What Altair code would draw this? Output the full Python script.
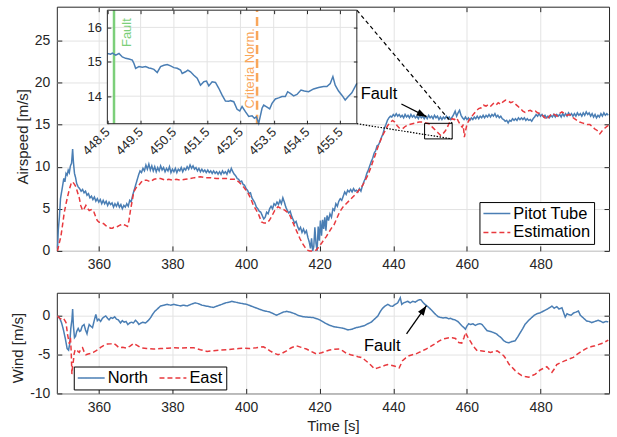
import altair as alt
import pandas as pd

FONT = "Liberation Sans"
BLUE = "#4a7eb4"
RED = "#e8393e"
GREEN = "#7ccf7a"
ORANGE = "#f9a65a"
INK = "#262626"
GRID = "#e3e3e3"

W, H_AIR, H_WIND = 554, 245, 101

# ---------------- shared time axis ----------------
time_domain = [348.6, 498.6]
time_ticks = [360, 380, 400, 420, 440, 460, 480]

# ---------------- airspeed panel ----------------
airspeed_domain = [0, 29]
airspeed_ticks = [0, 5, 10, 15, 20, 25]
air_series = ["Pitot Tube", "Estimation"]

pitot_tube = [
    (348.8, 0.3), (349.0, 2.5), (349.3, 4.0), (349.6, 6.2), (349.9, 7.0), (350.2, 7.8),
    (350.5, 8.6), (350.8, 8.2), (351.1, 9.2), (351.4, 9.0), (351.7, 9.6), (352.0, 9.3),
    (352.3, 10.1), (352.6, 10.4), (352.9, 12.1), (353.1, 10.6), (353.4, 9.2), (353.7, 8.7),
    (354.0, 8.0), (354.4, 7.6), (354.8, 7.4), (355.2, 7.1), (355.6, 7.3), (356.0, 6.9),
    (356.4, 7.1), (356.8, 6.6), (357.2, 6.8), (357.6, 6.3), (358.0, 6.5), (358.4, 6.1),
    (358.8, 6.4), (359.2, 5.9), (359.6, 6.2), (360.0, 5.8), (360.4, 6.1), (360.8, 5.6),
    (361.2, 6.0), (361.6, 5.6), (362.0, 5.9), (362.4, 5.4), (362.8, 5.8), (363.2, 5.5),
    (363.6, 5.7), (364.0, 5.2), (364.4, 5.6), (364.8, 5.3), (365.2, 5.7), (365.6, 5.2),
    (366.0, 5.5), (366.4, 5.0), (366.8, 5.4), (367.2, 5.2), (367.6, 5.6), (368.0, 5.3),
    (368.4, 6.0), (368.8, 5.8), (369.2, 6.6), (369.6, 7.2), (370.0, 7.8), (370.4, 8.4),
    (370.8, 9.0), (371.2, 9.5), (371.6, 9.3), (372.0, 9.8), (372.4, 9.5), (372.8, 10.2),
    (373.2, 9.7), (373.6, 10.3), (374.0, 9.6), (374.4, 10.1), (374.8, 9.5), (375.2, 10.0),
    (375.6, 9.4), (376.0, 9.9), (376.4, 9.5), (376.8, 10.1), (377.2, 9.6), (377.6, 9.9),
    (378.0, 9.4), (378.4, 9.8), (378.8, 9.5), (379.2, 10.0), (379.6, 9.3), (380.0, 9.7),
    (380.4, 9.4), (380.8, 9.8), (381.2, 9.3), (381.6, 9.7), (382.0, 9.5), (382.4, 9.9),
    (382.8, 9.4), (383.2, 9.8), (383.6, 9.6), (384.0, 10.0), (384.4, 9.7), (384.8, 10.2),
    (385.2, 9.8), (385.6, 10.1), (386.0, 9.7), (386.4, 9.9), (386.8, 9.5), (387.2, 9.8),
    (387.6, 9.4), (388.0, 9.7), (388.4, 9.4), (388.8, 9.6), (389.2, 9.3), (389.6, 9.6),
    (390.0, 9.3), (390.4, 9.5), (390.8, 9.2), (391.2, 9.5), (391.6, 9.2), (392.0, 9.4),
    (392.4, 9.1), (392.8, 9.4), (393.2, 9.1), (393.6, 9.5), (394.0, 9.2), (394.4, 9.4),
    (394.8, 9.1), (395.2, 9.6), (395.6, 9.3), (396.0, 9.8), (396.4, 9.4), (396.8, 9.1),
    (397.2, 8.9), (397.6, 8.6), (398.0, 8.5), (398.4, 8.2), (398.8, 8.3), (399.2, 7.9),
    (399.6, 7.8), (400.0, 7.4), (400.4, 7.2), (400.8, 6.8), (401.2, 6.9), (401.6, 6.3),
    (402.0, 6.0), (402.4, 5.7), (402.8, 5.2), (403.2, 5.0), (403.6, 4.7), (404.0, 4.6),
    (404.4, 4.2), (404.8, 3.8), (405.2, 4.0), (405.6, 4.6), (406.0, 4.4), (406.4, 5.0),
    (406.8, 5.3), (407.2, 5.0), (407.6, 5.6), (408.0, 5.4), (408.4, 5.8), (408.8, 5.5),
    (409.2, 6.0), (409.6, 5.6), (410.0, 6.3), (410.4, 5.8), (410.8, 5.2), (411.2, 4.8),
    (411.6, 4.5), (412.0, 4.7), (412.4, 4.1), (412.8, 3.7), (413.2, 3.3), (413.6, 3.5),
    (414.0, 2.9), (414.4, 2.5), (414.8, 2.8), (415.2, 2.2), (415.6, 2.6), (416.0, 2.1),
    (416.4, 2.4), (416.8, 1.6), (417.2, 1.0), (417.5, 0.3), (417.8, 1.5), (418.1, 0.0),
    (418.4, 0.5), (418.7, 2.8), (419.0, 0.9), (419.3, 0.0), (419.6, 2.9), (419.9, 1.2),
    (420.2, 3.6), (420.5, 1.8), (420.8, 3.7), (421.1, 2.6), (421.4, 4.0), (421.7, 2.4),
    (422.0, 4.2), (422.4, 3.6), (422.8, 4.4), (423.2, 4.0), (423.6, 5.0), (424.0, 4.8),
    (424.4, 5.6), (424.8, 5.3), (425.2, 5.9), (425.6, 6.2), (426.0, 6.0), (426.4, 6.5),
    (426.8, 7.0), (427.2, 6.7), (427.6, 7.2), (428.0, 7.0), (428.4, 7.3), (428.8, 7.0),
    (429.2, 7.4), (429.6, 7.1), (430.0, 7.2), (430.4, 7.0), (430.8, 7.4), (431.2, 7.1),
    (431.6, 7.7), (432.0, 8.2), (432.4, 8.6), (432.8, 9.2), (433.2, 9.6), (433.6, 10.1),
    (434.0, 10.6), (434.4, 11.0), (434.8, 11.6), (435.2, 11.9), (435.6, 12.5), (436.0, 12.6),
    (436.4, 13.0), (436.8, 13.5), (437.2, 13.9), (437.6, 14.6), (438.0, 15.0), (438.4, 15.5),
    (438.8, 15.8), (439.2, 16.0), (439.6, 15.9), (440.0, 16.2), (440.4, 16.0), (440.8, 16.3),
    (441.2, 16.0), (441.6, 16.2), (442.0, 15.9), (442.4, 16.1), (442.8, 15.8), (443.2, 16.2),
    (443.6, 15.9), (444.0, 16.1), (444.4, 15.8), (444.8, 16.2), (445.2, 15.9), (445.6, 16.1),
    (446.0, 15.8), (446.4, 16.0), (446.8, 15.7), (447.2, 16.1), (447.6, 15.8), (448.0, 16.0),
    (448.4, 15.7), (448.8, 16.0), (449.2, 15.7), (449.6, 16.1), (450.0, 15.8), (450.4, 16.0),
    (450.8, 15.7), (451.2, 16.1), (451.6, 15.8), (452.0, 16.0), (452.4, 15.6), (452.8, 15.9),
    (453.2, 15.6), (453.6, 15.9), (454.0, 15.7), (454.4, 16.0), (454.8, 15.7), (455.2, 15.9),
    (455.6, 15.6), (456.0, 15.9), (456.4, 16.2), (456.8, 16.6), (457.2, 16.0), (457.6, 16.4),
    (458.0, 16.7), (458.4, 16.1), (458.8, 15.8), (459.2, 15.6), (459.6, 15.9), (460.0, 15.6),
    (460.4, 15.8), (460.8, 15.5), (461.2, 15.8), (461.6, 15.6), (462.0, 15.9), (462.4, 15.7),
    (462.8, 16.0), (463.2, 15.7), (463.6, 16.0), (464.0, 15.8), (464.4, 16.1), (464.8, 15.8),
    (465.2, 16.1), (465.6, 15.9), (466.0, 16.2), (466.4, 15.9), (466.8, 16.2), (467.2, 16.0),
    (467.6, 16.3), (468.0, 15.9), (468.4, 16.1), (468.8, 15.8), (469.2, 16.0), (469.6, 15.7),
    (470.0, 15.6), (470.4, 15.4), (470.8, 15.5), (471.2, 15.2), (471.6, 15.5), (472.0, 15.4),
    (472.4, 15.7), (472.8, 15.5), (473.2, 15.7), (473.6, 15.5), (474.0, 15.8), (474.4, 15.6),
    (474.8, 15.8), (475.2, 15.6), (475.6, 15.8), (476.0, 15.5), (476.4, 15.7), (476.8, 15.5),
    (477.2, 15.6), (477.6, 15.4), (478.0, 15.7), (478.4, 15.9), (478.8, 16.2), (479.2, 16.0),
    (479.6, 16.3), (480.0, 16.0), (480.4, 16.2), (480.8, 15.9), (481.2, 16.1), (481.6, 15.8),
    (482.0, 16.0), (482.4, 15.8), (482.8, 16.1), (483.2, 15.9), (483.6, 16.2), (484.0, 15.9),
    (484.4, 16.2), (484.8, 16.0), (485.2, 16.2), (485.6, 15.9), (486.0, 16.3), (486.4, 16.0),
    (486.8, 16.3), (487.2, 16.0), (487.6, 16.4), (488.0, 16.1), (488.4, 16.3), (488.8, 16.0),
    (489.2, 16.3), (489.6, 16.0), (490.0, 16.4), (490.4, 16.1), (490.8, 16.3), (491.2, 16.0),
    (491.6, 16.4), (492.0, 16.1), (492.4, 16.5), (492.8, 16.2), (493.2, 16.4), (493.6, 16.0),
    (494.0, 16.3), (494.4, 15.9), (494.8, 16.2), (495.2, 15.8), (495.6, 16.1), (496.0, 15.9),
    (496.4, 16.3), (496.8, 16.0), (497.2, 16.4), (497.6, 16.1), (498.0, 16.3), (498.4, 16.1),
]

estimation = [
    (348.8, 0.0), (349.3, 1.0), (349.7, 1.7), (350.2, 3.2), (350.6, 4.5), (351.1, 5.6),
    (351.5, 6.4), (352.0, 7.3), (352.5, 8.0), (352.9, 8.2), (353.4, 7.9), (353.8, 7.6),
    (354.2, 7.0), (354.7, 6.3), (355.1, 5.4), (355.6, 4.8), (356.0, 5.0), (356.5, 5.4),
    (357.0, 5.0), (357.4, 4.8), (357.9, 4.9), (358.3, 4.6), (358.7, 4.6), (359.2, 4.0),
    (359.6, 3.6), (360.1, 3.4), (360.6, 3.4), (361.0, 3.3), (361.4, 3.2), (361.9, 3.0),
    (362.3, 2.9), (362.8, 2.8), (363.2, 2.7), (363.7, 2.7), (364.1, 2.8), (364.6, 2.8),
    (365.1, 2.9), (365.5, 3.0), (366.0, 3.1), (366.4, 3.2), (366.9, 3.1), (367.4, 3.0),
    (367.8, 2.9), (368.2, 3.6), (368.6, 4.8), (369.1, 6.0), (369.5, 7.0), (370.0, 7.4),
    (370.5, 7.7), (370.9, 7.8), (371.4, 8.1), (371.8, 8.3), (372.2, 8.4), (373.0, 8.4),
    (374.0, 8.2), (375.0, 8.5), (376.0, 8.6), (376.8, 8.6), (378.0, 8.4), (379.0, 8.5),
    (380.0, 8.4), (381.0, 8.5), (382.2, 8.4), (383.5, 8.5), (384.9, 8.6), (386.0, 8.7),
    (387.6, 8.8), (389.0, 8.7), (390.3, 8.7), (392.0, 8.6), (393.5, 8.6), (395.0, 8.6),
    (395.7, 8.5), (397.0, 8.5), (398.0, 8.2), (399.3, 7.6), (400.0, 7.2), (400.6, 6.8),
    (401.3, 6.2), (402.0, 5.4), (402.7, 4.9), (403.3, 4.45), (404.2, 3.45), (404.9, 3.3),
    (405.6, 3.3), (406.3, 3.6), (406.9, 4.05), (407.8, 4.8), (408.7, 5.25), (409.6, 5.0),
    (410.5, 4.85), (411.2, 4.6), (411.9, 4.25), (412.5, 3.6), (413.2, 2.9), (413.9, 2.2),
    (414.6, 1.5), (415.3, 0.9), (415.9, 0.5), (416.6, 0.1), (417.3, 0.0), (418.2, 0.0),
    (419.1, 0.1), (419.8, 0.5), (420.5, 0.9), (421.1, 1.3), (421.8, 1.7), (422.5, 2.2),
    (423.2, 2.7), (423.9, 3.1), (424.5, 3.7), (425.4, 4.6), (426.3, 5.2), (427.2, 5.6),
    (428.1, 6.0), (429.0, 6.4), (429.9, 6.8), (430.8, 7.3), (431.7, 7.8), (432.4, 8.4),
    (433.1, 9.0), (433.8, 9.8), (434.4, 10.55), (435.1, 11.4), (435.8, 12.3), (436.4, 13.0),
    (437.1, 13.7), (437.8, 14.3), (438.5, 14.9), (439.1, 15.2), (439.8, 15.5), (440.4, 15.3),
    (441.0, 14.9), (441.6, 14.6), (442.5, 14.5), (443.3, 14.8), (444.3, 15.0), (445.2, 15.1),
    (446.1, 15.2), (447.0, 15.3), (447.9, 15.3), (448.8, 15.2), (449.7, 15.1), (450.6, 14.7),
    (451.5, 14.3), (452.2, 14.0), (452.9, 13.7), (453.5, 13.9), (454.2, 14.3), (454.7, 14.7),
    (455.1, 15.1), (455.6, 15.5), (456.0, 15.7), (456.6, 15.6), (457.2, 15.8), (457.8, 15.3),
    (458.3, 14.9), (458.7, 14.7), (459.0, 15.0), (459.3, 13.5), (459.6, 14.2), (460.0, 15.0),
    (460.5, 15.5), (461.2, 15.9), (461.9, 16.3), (462.5, 16.6), (463.2, 16.9), (463.9, 17.0),
    (464.5, 17.3), (465.2, 17.2), (465.9, 17.4), (466.5, 17.2), (467.2, 17.5), (467.9, 17.3),
    (468.5, 17.6), (469.2, 17.4), (469.8, 17.7), (470.5, 17.9), (471.2, 17.8), (471.9, 17.6),
    (472.5, 17.7), (473.1, 17.45), (473.8, 17.2), (474.5, 16.9), (475.2, 16.6), (475.8, 16.45),
    (476.5, 16.6), (477.2, 16.7), (477.9, 16.5), (478.6, 16.6), (479.2, 16.4), (479.9, 16.3),
    (480.5, 16.1), (481.2, 15.8), (481.7, 15.6), (482.4, 16.0), (483.1, 16.3), (483.8, 16.2),
    (484.5, 16.0), (485.1, 16.3), (485.8, 16.5), (486.5, 16.3), (487.2, 16.1), (487.9, 16.2),
    (488.6, 15.9), (489.2, 15.7), (489.9, 15.5), (490.6, 15.3), (491.3, 15.2), (492.0, 15.1),
    (492.7, 15.0), (493.4, 15.0), (494.0, 14.8), (494.7, 14.5), (495.4, 14.3), (496.1, 13.9),
    (496.8, 14.3), (497.5, 14.6), (498.4, 14.9),
]

# fault marker on the airspeed panel: label position, arrow tail and tip
fault_label_air = (436.1, 18.67)
fault_arrow_air = (442.2, 17.45, 449.0, 15.94)
# region magnified in the inset: time range and airspeed range
zoom_box = (448.5, 456.0, 13.3, 15.15)

# ---------------- inset (magnified fault window) ----------------
zoom_time_domain = [448.5, 456.0]
zoom_speed_domain = [13.2, 16.5]
zoom_time_ticks = [448.5, 449.5, 450.5, 451.5, 452.5, 453.5, 454.5, 455.5]
zoom_speed_ticks = [14, 15, 16]
pitot_zoom = [
    (448.5, 15.24), (448.6, 15.22), (448.65, 15.25), (448.75, 15.19), (448.85, 15.24),
    (448.95, 15.14), (449.05, 15.1), (449.15, 15.08), (449.25, 15.05), (449.3, 14.95),
    (449.35, 14.81), (449.45, 14.86), (449.55, 14.84), (449.65, 14.86), (449.75, 14.82),
    (449.8, 14.81), (449.9, 14.78), (450.0, 14.69), (450.1, 14.86), (450.2, 14.9),
    (450.3, 14.92), (450.4, 14.88), (450.5, 14.83), (450.6, 14.81), (450.7, 14.76),
    (450.75, 14.66), (450.85, 14.71), (450.92, 14.76), (451.0, 14.71), (451.1, 14.61),
    (451.2, 14.52), (451.3, 14.32), (451.4, 14.42), (451.48, 14.44), (451.55, 14.3),
    (451.65, 14.42), (451.75, 14.4), (451.85, 14.23), (451.95, 14.03), (452.05, 13.86),
    (452.15, 13.85), (452.2, 13.87), (452.3, 13.84), (452.4, 13.62), (452.48, 13.57),
    (452.55, 13.7), (452.65, 13.55), (452.75, 13.41), (452.85, 13.43), (452.92, 13.36),
    (452.98, 13.4), (453.05, 13.21), (453.15, 13.65), (453.2, 13.74), (453.3, 13.68),
    (453.38, 13.63), (453.45, 13.79), (453.55, 13.92), (453.65, 13.95), (453.75, 13.99),
    (453.85, 13.99), (453.92, 14.13), (454.0, 14.08), (454.1, 14.01), (454.2, 14.05),
    (454.32, 14.18), (454.42, 14.15), (454.55, 14.13), (454.7, 14.21), (454.85, 14.25),
    (455.0, 14.28), (455.1, 14.28), (455.2, 14.37), (455.28, 14.57), (455.35, 14.32),
    (455.45, 14.15), (455.55, 14.03), (455.65, 13.89), (455.75, 14.0), (455.85, 14.1),
    (456.0, 14.37),
]
fault_time = 448.7
criteria_time = 453.0
fault_label_zoom = (449.2, 15.43)
criteria_label_zoom = (452.92, 13.64)

# inset placement inside the airspeed plot area (pixels)
INSET_LEFT, INSET_RIGHT, INSET_TOP, INSET_BOTTOM = 50.7, 301.0, 3.5, 117.4

# ---------------- wind panel ----------------
wind_domain = [-10, 3]
wind_ticks = [-10, -5, 0]
wind_series = ["North", "East"]

north = [
    (348.8, 0.0), (349.4, -0.3), (349.9, -0.9), (350.4, -1.8), (350.9, -2.9), (351.4, -4.2),
    (351.8, -4.4), (352.1, -3.6), (352.4, -1.6), (352.7, -0.5), (352.9, 0.9), (353.1, -1.2),
    (353.4, -2.8), (353.7, -2.6), (354.0, -2.0), (354.4, -1.6), (354.8, -2.0), (355.1, -1.9),
    (355.5, -1.3), (356.0, -1.1), (356.4, -1.8), (356.8, -2.3), (357.1, -1.6), (357.4, -1.1),
    (357.8, -1.3), (358.3, -1.5), (358.7, -0.7), (359.2, 0.2), (359.6, -0.6), (360.0, -0.4),
    (360.5, -0.7), (361.0, -0.3), (361.5, -0.1), (361.9, 0.0), (362.4, -0.3), (362.8, -0.5),
    (363.3, -0.2), (363.8, -0.3), (364.3, -0.1), (364.8, -0.4), (365.3, -0.5), (365.9, -0.9),
    (366.4, -0.6), (366.9, -0.8), (367.4, -0.7), (367.9, -1.1), (368.4, -0.9), (368.9, -0.8),
    (369.4, -0.9), (370.0, -0.55), (370.5, -0.8), (370.9, -1.1), (371.5, -0.9), (372.0, -0.8),
    (372.7, -0.9), (373.4, -0.6), (374.1, -0.2), (374.6, 0.2), (375.2, 0.6), (375.9, 0.9),
    (376.8, 1.3), (377.7, 1.4), (378.6, 1.5), (379.5, 1.4), (380.4, 1.5), (381.3, 1.4),
    (382.2, 1.3), (383.1, 1.4), (384.0, 1.3), (385.0, 1.5), (386.2, 1.7), (387.0, 1.6),
    (388.0, 1.4), (389.0, 1.3), (390.1, 1.2), (391.1, 1.1), (392.2, 1.3), (393.4, 1.5),
    (394.5, 1.7), (395.5, 1.8), (396.1, 1.9), (397.0, 1.8), (397.9, 1.7), (399.0, 1.6),
    (400.2, 1.5), (401.3, 1.3), (402.4, 1.1), (403.5, 0.9), (404.7, 0.7), (405.6, 0.6),
    (406.5, 0.5), (407.4, 0.3), (408.3, 0.1), (409.2, 0.3), (410.1, 0.5), (411.0, 0.6),
    (412.0, 0.5), (413.2, 0.3), (414.3, 0.05), (415.5, -0.1), (416.8, -0.15), (418.2, -0.2),
    (419.2, -0.35), (420.0, -0.5), (421.4, -0.9), (422.7, -1.2), (424.0, -1.4), (425.4, -1.5),
    (426.5, -1.6), (427.7, -1.8), (428.8, -1.7), (429.9, -1.5), (431.0, -1.4), (432.2, -1.25),
    (433.1, -1.0), (434.0, -0.8), (434.9, -0.4), (435.8, 0.0), (436.5, 0.6), (437.1, 1.0),
    (437.8, 1.3), (438.5, 1.5), (439.2, 1.3), (439.8, 1.25), (440.5, 1.5), (441.2, 1.7),
    (441.9, 2.35), (442.3, 1.5), (442.8, 1.7), (443.4, 1.8), (443.9, 1.9), (444.6, 1.7),
    (445.3, 1.9), (446.0, 1.8), (446.6, 2.0), (447.1, 2.1), (447.5, 2.1), (448.0, 1.8),
    (448.6, 1.5), (449.4, 1.2), (450.2, 0.85), (450.9, 0.5), (451.5, 0.2), (452.2, -0.1),
    (452.9, -0.2), (453.6, -0.25), (454.3, -0.2), (455.0, -0.35), (455.6, -0.3), (456.2, -0.45),
    (456.8, -0.5), (457.5, -0.7), (458.1, -1.0), (458.7, -1.3), (459.2, -1.5), (459.6, -1.7),
    (460.0, -1.3), (460.5, -1.0), (461.0, -1.1), (461.6, -1.0), (462.3, -1.2), (463.0, -1.05),
    (463.6, -1.0), (464.1, -1.1), (464.8, -1.5), (465.5, -1.9), (466.4, -2.0), (467.3, -2.15),
    (468.0, -2.3), (468.6, -2.55), (469.3, -2.8), (470.0, -3.2), (470.7, -3.4), (471.4, -3.45),
    (472.2, -3.3), (473.1, -3.2), (473.8, -2.7), (474.5, -2.14), (475.2, -1.6), (475.8, -1.07),
    (476.7, -0.6), (477.6, -0.2), (478.3, 0.1), (479.0, 0.3), (479.9, 0.4), (480.8, 0.64),
    (481.9, 0.9), (483.1, 1.28), (483.7, 1.0), (484.4, 1.2), (485.0, 0.9), (485.8, 1.07),
    (486.3, 0.4), (486.7, -0.13), (487.2, 0.3), (487.6, 0.2), (488.3, 0.1), (489.0, 0.4),
    (489.6, 0.5), (490.3, 0.64), (490.8, 0.1), (491.5, -0.2), (492.5, -0.64), (493.2, -0.7),
    (493.9, -0.85), (494.8, -0.7), (495.7, -0.55), (496.4, -0.7), (497.0, -0.85), (497.7, -0.7),
    (498.4, -0.75),
]

east = [
    (348.8, 0.0), (349.4, -0.3), (349.9, -0.4), (350.4, -0.3), (350.8, -0.6), (351.1, -0.85),
    (351.5, -2.35), (352.0, -3.6), (352.3, -2.8), (352.5, -4.5), (352.7, -7.5), (352.9, -6.3),
    (353.1, -5.8), (353.3, -4.9), (353.5, -4.5), (353.8, -4.3), (354.1, -4.4), (354.4, -4.6),
    (354.7, -4.7), (355.1, -4.3), (355.6, -4.1), (356.0, -4.6), (356.5, -5.0), (357.1, -4.9),
    (357.8, -4.85), (358.5, -4.7), (359.2, -4.5), (359.9, -4.3), (360.5, -4.06), (361.4, -3.8),
    (362.3, -3.63), (363.2, -3.6), (364.1, -3.55), (364.8, -3.8), (365.5, -4.1), (366.5, -4.05),
    (367.5, -4.15), (368.5, -3.9), (369.5, -3.55), (370.4, -3.8), (371.4, -4.1), (373.0, -4.2),
    (374.9, -4.27), (376.8, -4.2), (378.7, -4.15), (380.6, -4.1), (382.4, -4.15), (384.2, -4.1),
    (385.8, -4.1), (387.6, -4.35), (389.4, -4.57), (391.2, -4.5), (393.0, -4.4), (394.8, -4.35),
    (396.6, -4.27), (398.0, -4.2), (399.3, -4.15), (401.0, -4.2), (402.8, -4.1), (404.7, -3.97),
    (405.6, -4.2), (406.5, -4.5), (407.6, -4.8), (408.7, -5.0), (409.8, -4.8), (411.0, -4.5),
    (412.3, -4.1), (413.7, -3.85), (415.0, -4.05), (416.4, -4.27), (417.8, -4.6), (419.1, -4.9),
    (420.5, -4.75), (421.6, -4.55), (422.7, -4.4), (424.0, -4.3), (425.4, -4.27), (426.3, -4.5),
    (427.2, -4.8), (428.4, -5.0), (429.5, -5.13), (430.4, -5.25), (431.3, -5.35), (432.2, -5.65),
    (433.1, -6.0), (434.0, -6.4), (434.9, -6.84), (435.8, -6.7), (436.7, -6.55), (437.6, -6.4),
    (438.5, -6.28), (439.4, -6.35), (440.5, -6.5), (441.6, -6.7), (442.1, -6.2), (442.5, -5.77),
    (443.4, -5.4), (444.3, -5.13), (445.2, -5.0), (446.1, -4.9), (447.0, -4.7), (447.9, -4.5),
    (448.8, -4.3), (449.7, -4.06), (450.6, -3.8), (451.5, -3.55), (452.4, -3.25), (453.3, -3.0),
    (454.2, -2.9), (455.1, -2.8), (456.0, -2.8), (456.9, -2.9), (457.8, -3.42), (458.6, -3.5),
    (459.2, -2.8), (459.6, -2.14), (460.1, -2.6), (460.5, -3.0), (461.0, -3.3), (461.4, -3.63),
    (462.1, -4.1), (462.8, -4.5), (463.7, -4.5), (464.6, -4.55), (465.5, -4.6), (466.4, -4.7),
    (467.3, -4.6), (468.2, -4.5), (469.1, -4.8), (470.0, -5.13), (470.7, -5.6), (471.4, -6.2),
    (472.2, -6.6), (473.1, -7.05), (474.0, -7.4), (474.9, -7.7), (475.8, -7.8), (476.8, -7.9),
    (477.7, -7.7), (478.6, -7.5), (479.3, -7.2), (479.9, -6.97), (480.8, -6.75), (481.7, -6.55),
    (482.4, -6.9), (483.1, -7.26), (483.8, -6.8), (484.4, -6.28), (485.5, -6.0), (486.7, -5.77),
    (487.8, -5.55), (488.9, -5.35), (489.8, -5.0), (490.7, -4.7), (491.9, -4.35), (493.0, -4.06),
    (493.9, -3.95), (494.8, -3.85), (495.7, -3.7), (496.6, -3.55), (497.5, -3.35), (498.4, -3.12),
]

fault_label_wind = (437.0, -3.82)
fault_arrow_wind = (443.6, -2.32, 449.0, 1.33)

# filled arrowhead pointing along +x, tip at the symbol origin
ARROW = "M0,0L-1,-0.36L-1,0.36Z"
# legend sample: a horizontal stroke longer than the symbol's nominal box
LEGEND_STROKE = "M-1.8,0L1.8,0"


def frame(pairs, series=None):
    df = pd.DataFrame(pairs, columns=["t", "v"])
    if series is not None:
        df["series"] = series
    return df


def scale(domain, rng=None):
    if rng is None:
        return alt.Scale(domain=domain, nice=False, zero=False)
    return alt.Scale(domain=domain, range=rng, nice=False, zero=False)


def label_axis(orient, values, title=None, **kw):
    return alt.Axis(orient=orient, values=values, title=title, grid=True, ticks=False,
                    domain=False, labelPadding=7, **kw)


def tick_axis(orient, values, offset, size, zindex=0):
    # short inward ticks: axis pushed inside the frame, ticks pointing back to the edge
    return alt.Axis(orient=orient, values=values, offset=offset, tickSize=size, ticks=True,
                    labels=False, grid=False, domain=False, title=None, zindex=zindex,
                    tickColor=INK, tickWidth=1)


def line_legend(x, y, direction, columns, padding, **kw):
    return alt.Legend(title=None, orient="none", legendX=x, legendY=y, direction=direction,
                      columns=columns, symbolType=LEGEND_STROKE, symbolSize=225,
                      symbolOffset=6, symbolStrokeWidth=1.5, labelFontSize=16.5,
                      labelFont=FONT, labelColor="black", labelOffset=8,
                      strokeColor="black", fillColor="white", padding=padding,
                      rowPadding=2, columnPadding=8, **kw)


# =============== airspeed panel ===============
t_air = scale(time_domain)
v_air = scale(airspeed_domain)
air_legend = line_legend(424, 196, "vertical", 1, 3, labelExpr="datum.label + '   '")
air_color = alt.Color("series:N", scale=alt.Scale(domain=air_series, range=[BLUE, RED]),
                      legend=air_legend)
air_dash = alt.StrokeDash("series:N", scale=alt.Scale(domain=air_series, range=[[1, 0], [5, 3]]),
                          legend=air_legend)

pitot_line = alt.Chart(frame(pitot_tube, "Pitot Tube")).mark_line(strokeWidth=1.5).encode(
    x=alt.X("t:Q", scale=t_air, axis=label_axis("bottom", time_ticks)),
    y=alt.Y("v:Q", scale=v_air,
            axis=label_axis("left", airspeed_ticks, "Airspeed [m/s]", titlePadding=4, titleY=130)),
    color=air_color, strokeDash=air_dash,
)
est_line = alt.Chart(frame(estimation, "Estimation")).mark_line(strokeWidth=1.5).encode(
    x=alt.X("t:Q", scale=t_air, axis=tick_axis("bottom", time_ticks, -5, 5)),
    y=alt.Y("v:Q", scale=v_air, axis=tick_axis("left", airspeed_ticks, -5, 5)),
    color=air_color, strokeDash=air_dash,
)

box_df = pd.DataFrame({"t0": [zoom_box[0]], "t1": [zoom_box[1]],
                       "v0": [zoom_box[2]], "v1": [zoom_box[3]]})
zoom_rect = alt.Chart(box_df).mark_rect(fillOpacity=0, stroke="black", strokeWidth=1).encode(
    x=alt.X("t0:Q", scale=t_air, axis=tick_axis("top", time_ticks, -5, 5)),
    x2="t1:Q",
    y=alt.Y("v0:Q", scale=v_air, axis=tick_axis("right", airspeed_ticks, -5, 5)),
    y2="v1:Q",
)

# connectors from the inset's right-hand corners to the magnified box
corner_t = time_domain[0] + INSET_RIGHT / W * (time_domain[1] - time_domain[0])
corner_top = airspeed_domain[1] - INSET_TOP / H_AIR * (airspeed_domain[1] - airspeed_domain[0])
corner_bottom = airspeed_domain[1] - INSET_BOTTOM / H_AIR * (airspeed_domain[1] - airspeed_domain[0])
upper_link = pd.DataFrame({"t0": [corner_t], "v0": [corner_top], "t1": [zoom_box[1]], "v1": [zoom_box[3]]})
lower_link = pd.DataFrame({"t0": [corner_t], "v0": [corner_bottom], "t1": [zoom_box[1]], "v1": [zoom_box[2]]})


def segment(df, **style):
    return alt.Chart(df).mark_rule(**style).encode(
        x=alt.X("t0:Q", scale=t_air, axis=None), y=alt.Y("v0:Q", scale=v_air, axis=None),
        x2="t1:Q", y2="v1:Q")


upper_rule = segment(upper_link, color="black", strokeWidth=1.2, strokeDash=[4, 3])
lower_rule = segment(lower_link, color="black", strokeWidth=1.2, strokeDash=[1.5, 1.5])

arrow_air = pd.DataFrame({"t0": [fault_arrow_air[0]], "v0": [fault_arrow_air[1]],
                          "t1": [fault_arrow_air[2]], "v1": [fault_arrow_air[3]]})
arrow_air_line = segment(arrow_air, color="black", strokeWidth=1.3)
arrow_air_head = alt.Chart(arrow_air).mark_point(shape=ARROW, size=380, filled=True,
                                                 color="black", opacity=1, angle=27).encode(
    x=alt.X("t1:Q", scale=t_air, axis=None), y=alt.Y("v1:Q", scale=v_air, axis=None))
fault_air_text = alt.Chart(pd.DataFrame({"t": [fault_label_air[0]], "v": [fault_label_air[1]],
                                         "label": ["Fault"]})).mark_text(
    font=FONT, fontSize=16.5, color="black").encode(
    x=alt.X("t:Q", scale=t_air, axis=None), y=alt.Y("v:Q", scale=v_air, axis=None), text="label:N")

main_air = alt.layer(
    pitot_line, est_line, zoom_rect, upper_rule, lower_rule,
    arrow_air_line, arrow_air_head, fault_air_text,
).resolve_axis(x="independent", y="independent")

# =============== inset ===============
t_in = scale(zoom_time_domain, [INSET_LEFT, INSET_RIGHT])
v_in = scale(zoom_speed_domain, [INSET_BOTTOM, INSET_TOP])

frame_df = pd.DataFrame({"t0": [zoom_time_domain[0]], "t1": [zoom_time_domain[1]],
                         "v0": [zoom_speed_domain[0]], "v1": [zoom_speed_domain[1]]})

inset_bg = alt.Chart(frame_df).mark_rect(fill="white").encode(
    x=alt.X("t0:Q", scale=t_in,
            axis=alt.Axis(orient="bottom", values=zoom_time_ticks, offset=INSET_BOTTOM - H_AIR,
                          labelAngle=-45, labelAlign="right", labelBaseline="middle",
                          labelFontSize=13, labelPadding=6, labelExpr="toString(datum.value)",
                          ticks=False, grid=False, domain=False, title=None, zindex=1)),
    x2="t1:Q",
    y=alt.Y("v0:Q", scale=v_in,
            axis=alt.Axis(orient="left", values=zoom_speed_ticks, offset=-INSET_LEFT,
                          labelFontSize=13, labelPadding=6, ticks=False, grid=False,
                          domain=False, title=None, zindex=1)),
    y2="v1:Q",
)

vgrid = alt.Chart(pd.DataFrame({"t": zoom_time_ticks[1:]})).mark_rule(color=GRID, strokeWidth=1).encode(
    x=alt.X("t:Q", scale=t_in, axis=None),
    y=alt.datum(zoom_speed_domain[0], scale=v_in, axis=None), y2=alt.datum(zoom_speed_domain[1]))
hgrid = alt.Chart(pd.DataFrame({"v": zoom_speed_ticks})).mark_rule(color=GRID, strokeWidth=1).encode(
    y=alt.Y("v:Q", scale=v_in, axis=None),
    x=alt.datum(zoom_time_domain[0], scale=t_in, axis=None), x2=alt.datum(zoom_time_domain[1]))

fault_rule = alt.Chart(pd.DataFrame({"t": [fault_time]})).mark_rule(color=GREEN, strokeWidth=2.5).encode(
    x=alt.X("t:Q", scale=t_in, axis=tick_axis("bottom", zoom_time_ticks, INSET_BOTTOM - H_AIR - 3.5, 3.5, 1)),
    y=alt.datum(zoom_speed_domain[0], scale=v_in,
                axis=tick_axis("left", zoom_speed_ticks, -INSET_LEFT - 3.5, 3.5, 1)),
    y2=alt.datum(zoom_speed_domain[1]))
criteria_rule = alt.Chart(pd.DataFrame({"t": [criteria_time]})).mark_rule(
    color=ORANGE, strokeWidth=2.5, strokeDash=[9, 5]).encode(
    x=alt.X("t:Q", scale=t_in, axis=tick_axis("top", zoom_time_ticks, -INSET_TOP - 3.5, 3.5, 1)),
    y=alt.datum(zoom_speed_domain[0], scale=v_in,
                axis=tick_axis("right", zoom_speed_ticks, INSET_RIGHT - 3.5 - W, 3.5, 1)),
    y2=alt.datum(zoom_speed_domain[1]))

zoom_line = alt.Chart(frame(pitot_zoom)).mark_line(color=BLUE, strokeWidth=1.5).encode(
    x=alt.X("t:Q", scale=t_in, axis=None), y=alt.Y("v:Q", scale=v_in, axis=None))


def rotated_label(pos, text, colour):
    df = pd.DataFrame({"t": [pos[0]], "v": [pos[1]], "label": [text]})
    return alt.Chart(df).mark_text(
        font=FONT, fontSize=13, angle=270, align="left", baseline="alphabetic", color=colour
    ).encode(x=alt.X("t:Q", scale=t_in, axis=None), y=alt.Y("v:Q", scale=v_in, axis=None),
             text="label:N")


fault_text = rotated_label(fault_label_zoom, "Fault", GREEN)
criteria_text = rotated_label(criteria_label_zoom, "Criteria Norm.", ORANGE)

inset_frame = alt.Chart(frame_df).mark_rect(fillOpacity=0, stroke=INK, strokeWidth=1).encode(
    x=alt.X("t0:Q", scale=t_in, axis=None), x2="t1:Q",
    y=alt.Y("v0:Q", scale=v_in, axis=None), y2="v1:Q")

inset = alt.layer(
    inset_bg, vgrid, hgrid, fault_rule, criteria_rule, zoom_line, fault_text, criteria_text,
    inset_frame,
).resolve_axis(x="independent", y="independent")

air_panel = alt.layer(main_air, inset).resolve_scale(
    x="independent", y="independent"
).properties(width=W, height=H_AIR)

# =============== wind panel ===============
t_wind = scale(time_domain)
v_wind = scale(wind_domain)
wind_legend = line_legend(17, 74, "horizontal", 2, 3)
wind_color = alt.Color("series:N", scale=alt.Scale(domain=wind_series, range=[BLUE, RED]),
                       legend=wind_legend)
wind_dash = alt.StrokeDash("series:N", scale=alt.Scale(domain=wind_series, range=[[1, 0], [5, 3]]),
                           legend=wind_legend)

north_line = alt.Chart(frame(north, "North")).mark_line(strokeWidth=1.5).encode(
    x=alt.X("t:Q", scale=t_wind, axis=label_axis("bottom", time_ticks, "Time [s]", titlePadding=4)),
    y=alt.Y("v:Q", scale=v_wind,
            axis=label_axis("left", wind_ticks, "Wind [m/s]", titlePadding=4, titleY=55,
                            labelExpr="toString(datum.value)")),
    color=wind_color, strokeDash=wind_dash,
)
east_line = alt.Chart(frame(east, "East")).mark_line(strokeWidth=1.5).encode(
    x=alt.X("t:Q", scale=t_wind, axis=tick_axis("bottom", time_ticks, -5, 5)),
    y=alt.Y("v:Q", scale=v_wind, axis=tick_axis("left", wind_ticks, -5, 5)),
    color=wind_color, strokeDash=wind_dash,
)

arrow_wind = pd.DataFrame({"t0": [fault_arrow_wind[0]], "v0": [fault_arrow_wind[1]],
                           "t1": [fault_arrow_wind[2]], "v1": [fault_arrow_wind[3]]})
arrow_wind_line = alt.Chart(arrow_wind).mark_rule(color="black", strokeWidth=1.3).encode(
    x=alt.X("t0:Q", scale=t_wind, axis=None), y=alt.Y("v0:Q", scale=v_wind, axis=None),
    x2="t1:Q", y2="v1:Q")
arrow_wind_head = alt.Chart(arrow_wind).mark_point(shape=ARROW, size=380, filled=True,
                                                   color="black", opacity=1, angle=305).encode(
    x=alt.X("t1:Q", scale=t_wind, axis=None), y=alt.Y("v1:Q", scale=v_wind, axis=None))
fault_wind_text = alt.Chart(pd.DataFrame({"t": [fault_label_wind[0]], "v": [fault_label_wind[1]],
                                          "label": ["Fault"]})).mark_text(
    font=FONT, fontSize=16.5, color="black").encode(
    x=alt.X("t:Q", scale=t_wind, axis=tick_axis("top", time_ticks, -5, 5)),
    y=alt.Y("v:Q", scale=v_wind, axis=tick_axis("right", wind_ticks, -5, 5)),
    text="label:N")

wind_panel = alt.layer(
    north_line, east_line, arrow_wind_line, arrow_wind_head, fault_wind_text,
).resolve_axis(x="independent", y="independent").properties(width=W, height=H_WIND)

chart = alt.vconcat(air_panel, wind_panel, spacing=19).resolve_scale(
    x="independent", y="independent", color="independent", strokeDash="independent"
).properties(
    padding={"left": 10, "top": 5, "right": 5, "bottom": 5}
).configure(font=FONT).configure_view(
    stroke=INK, strokeWidth=1
).configure_axis(
    labelFont=FONT, titleFont=FONT, labelFontSize=14, titleFontSize=15,
    titleFontWeight="normal", labelColor=INK, titleColor=INK, tickColor=INK,
    gridColor=GRID, gridOpacity=1, gridWidth=1,
)

chart.save("out.html", embed_options={"renderer": "svg", "actions": False})
